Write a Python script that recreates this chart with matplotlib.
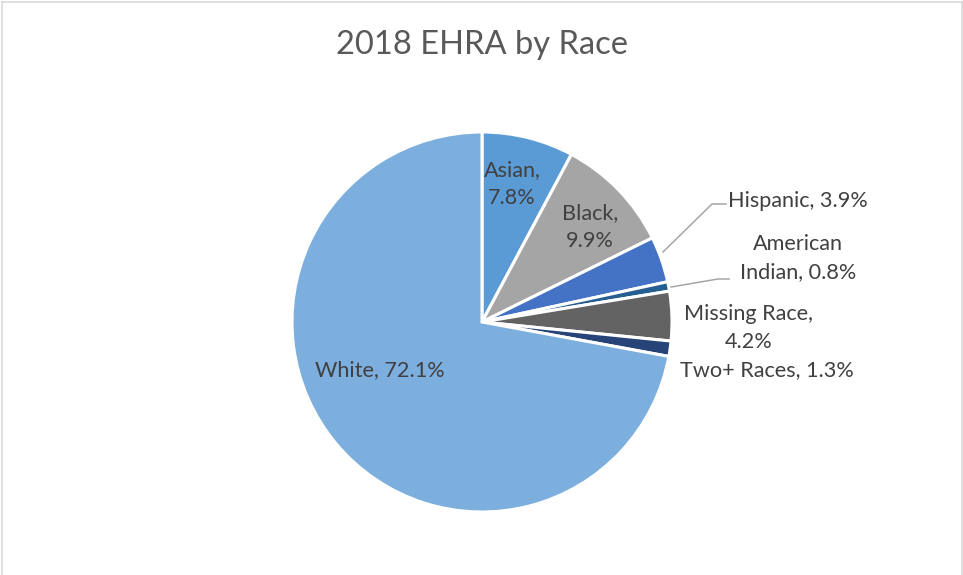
import matplotlib.pyplot as plt
from matplotlib.lines import Line2D

# data
races = ["Asian", "Black", "Hispanic", "American Indian", "Missing Race", "Two+ Races", "White"]
shares = [7.8, 9.9, 3.9, 0.8, 4.2, 1.3, 72.1]
label_text = ["Asian,\n7.8%", "Black,\n9.9%", "Hispanic, 3.9%", "American\nIndian, 0.8%",
              "Missing Race,\n4.2%", "Two+ Races, 1.3%", "White, 72.1%"]
colors = ["#5B9BD5", "#A5A5A5", "#4472C4", "#255E91", "#636363", "#264478", "#7CAFDD"]

# where each label sits (pixels, y down) and leader lines
label_pos = [(512, 184), (590, 227), (798, 201), (798, 258), (749, 328), (767, 370), (380, 370)]
leaders = {2: [(663, 252), (712, 204), (726, 204)],
           3: [(671, 287), (718, 279), (729, 279)]}

W, H = 963, 575
fig = plt.figure(figsize=(W / 100, H / 100), dpi=100)
ax = fig.add_axes([0, 0, 1, 1])

cx, cy, r = 482, H - 322, 190
ax.pie(shares, colors=colors, startangle=90, counterclock=False,
       center=(cx, cy), radius=r, frame=True,
       wedgeprops=dict(edgecolor="white", linewidth=2.2))
ax.set_xlim(0, W)
ax.set_ylim(0, H)
ax.set_aspect("equal")
ax.axis("off")

font = "Lato"
for i, txt in enumerate(label_text):
    x, y = label_pos[i]
    ax.text(x, H - y, txt, ha="center", va="center", fontsize=15.6,
            color="#404040", family=font, linespacing=1.55)

for i, pts in leaders.items():
    xs = [p[0] for p in pts]
    ys = [H - p[1] for p in pts]
    ax.plot(xs, ys, color="#A6A6A6", linewidth=1.1)

ax.text(482, H - 45, "2018 EHRA by Race", ha="center", va="center",
        fontsize=23.5, color="#595959", family=font)

# chart border (left, top, right)
bc = "#D9D9D9"
fig.add_artist(Line2D([1.5 / W, 1.5 / W], [0, 1 - 1.5 / H], color=bc, lw=1.2))
fig.add_artist(Line2D([1.5 / W, 1 - 1.5 / W], [1 - 1.5 / H, 1 - 1.5 / H], color=bc, lw=1.2))
fig.add_artist(Line2D([1 - 1.5 / W, 1 - 1.5 / W], [0, 1 - 1.5 / H], color=bc, lw=1.2))

fig.savefig("out.png", dpi=100)
